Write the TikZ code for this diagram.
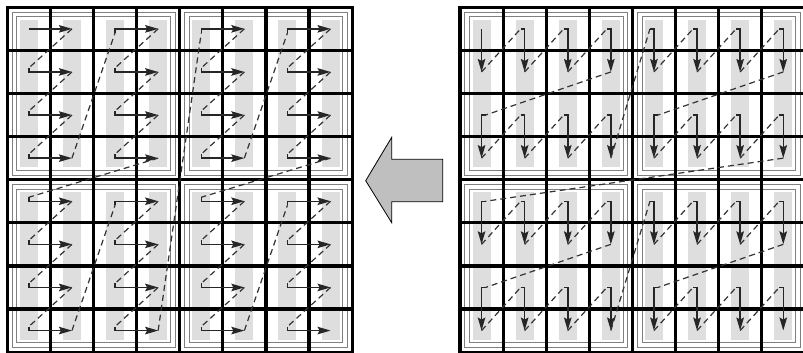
\documentclass[tikz,border=0pt]{standalone}
\usetikzlibrary{arrows.meta,calc}
\begin{document}
\begin{tikzpicture}[x=1pt,y=-1pt,
  gridline/.style={line width=3.2pt, black, line cap=rect},
  framel/.style={line width=0.8pt, black!50},
  stripe/.style={fill=black!13, draw=none},
  scanline/.style={line width=1.5pt, black!85, -{Stealth[length=13pt,width=7.5pt,inset=2pt]}},
  dashline/.style={line width=1.2pt, black!80, dash pattern=on 6pt off 4pt},
  bigarrow/.style={fill=black!25, draw=black, line width=0.8pt, line join=miter}]

\useasboundingbox (0,0) rectangle (803,353);
\fill[white] (0,0) rectangle (803,353);

\def\cs{43.1}
% grids: blocks, stripes, frames, lines
\foreach \gx in {7.3,460} {
  \foreach \bx in {0,1} {
    \foreach \by in {0,1} {
      \pgfmathsetmacro\L{\gx+4*\cs*\bx}
      \pgfmathsetmacro\T{7.3+4*\cs*\by}
      \pgfmathsetmacro\R{\L+4*\cs}
      \pgfmathsetmacro\B{\T+4*\cs}
      \foreach \i in {0,...,3} {
        \pgfmathsetmacro\xc{\L+(\i+0.5)*\cs}
        \fill[stripe] (\xc-9,\T+12.5) rectangle (\xc+9,\B-12.5);
      }
      \draw[framel] (\L+4.8,\T+4.8) rectangle (\R-4.8,\B-4.8);
      \draw[framel] (\L+9.5,\T+9.5) rectangle (\R-9.5,\B-9.5);
    }
  }
  \foreach \i in {0,...,8} {
    \draw[gridline] (\gx+\i*\cs,7.3) -- (\gx+\i*\cs,7.3+8*\cs);
    \draw[gridline] (\gx,7.3+\i*\cs) -- (\gx+8*\cs,7.3+\i*\cs);
  }
}

% left grid: horizontal scan
\foreach \cc/\rr/\sd [count=\n] in {
  1/1/0, 1/2/-4, 1/3/-4, 1/4/-4, 3/1/4, 3/2/-4, 3/3/-4, 3/4/-4,
  1/5/-4, 1/6/-4, 1/7/-4, 1/8/-4, 3/5/4, 3/6/-4, 3/7/-4, 3/8/-4,
  5/1/4, 5/2/-4, 5/3/-4, 5/4/-4, 7/1/4, 7/2/-4, 7/3/-4, 7/4/-4,
  5/5/-4, 5/6/-4, 5/7/-4, 5/8/-4, 7/5/4, 7/6/-4, 7/7/-4, 7/8/-4} {
  \coordinate (S) at ({7.3+(\cc-0.5)*\cs},{7.3+(\rr-0.5)*\cs});
  \coordinate (E) at ({7.3+(\cc+0.5)*\cs},{7.3+(\rr-0.5)*\cs});
  \ifnum\n>1
    \draw[dashline] (P) -- ($(S)+(0,\sd)$);
    \draw[scanline] ($(S)+(0,\sd)$) -- (S) -- (E);
  \else
    \draw[scanline] (S) -- (E);
  \fi
  \coordinate (P) at (E);
}

% right grid: vertical scan
\foreach \cc/\rr/\sd [count=\n] in {
  1/1/0, 2/1/-4, 3/1/-4, 4/1/-4, 1/3/4, 2/3/-4, 3/3/-4, 4/3/-4,
  5/1/-4, 6/1/-4, 7/1/-4, 8/1/-4, 5/3/4, 6/3/-4, 7/3/-4, 8/3/-4,
  1/5/4, 2/5/-4, 3/5/-4, 4/5/-4, 1/7/4, 2/7/-4, 3/7/-4, 4/7/-4,
  5/5/-4, 6/5/-4, 7/5/-4, 8/5/-4, 5/7/4, 6/7/-4, 7/7/-4, 8/7/-4} {
  \coordinate (S) at ({460+(\cc-0.5)*\cs},{7.3+(\rr-0.5)*\cs});
  \coordinate (E) at ({460+(\cc-0.5)*\cs},{7.3+(\rr+0.5)*\cs});
  \ifnum\n>1
    \draw[dashline] (P) -- ($(S)+(\sd,0)$);
    \draw[scanline] ($(S)+(\sd,0)$) -- (S) -- (E);
  \else
    \draw[scanline] (S) -- (E);
  \fi
  \coordinate (P) at (E);
}

% big arrow
\draw[bigarrow] (365.7,180.7) -- (391.7,137.3) -- (391.7,159.3) -- (442.7,159.3)
  -- (442.7,201.7) -- (391.7,201.7) -- (391.7,222.7) -- cycle;
\end{tikzpicture}
\end{document}
